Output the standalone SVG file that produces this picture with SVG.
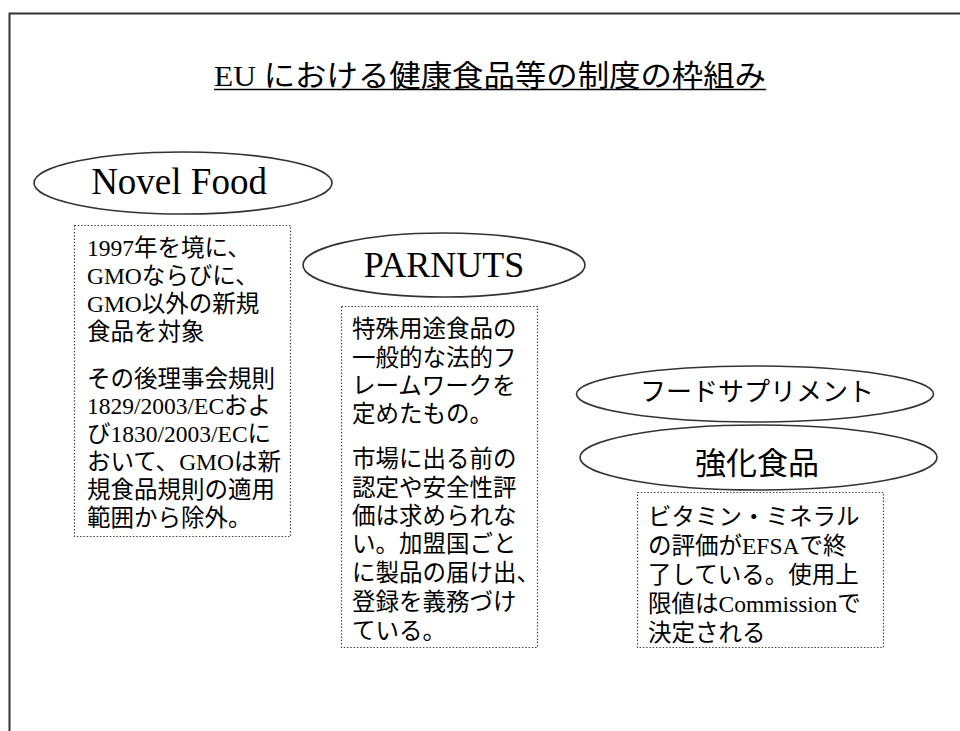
<svg xmlns="http://www.w3.org/2000/svg" width="960" height="731" viewBox="0 0 960 731">
<style>
.jp{font-family:"Noto Sans CJK JP","Noto Sans CJK SC",sans-serif;fill:#000}
.lat{font-family:"Liberation Serif","Noto Sans CJK JP",serif}
.body{font-size:23.5px}
.oval{fill:#fff;stroke:#333;stroke-width:1.6}
.box{fill:#fff;stroke:#444;stroke-width:1.2;stroke-dasharray:1.5 1.8}
</style>
<rect width="960" height="731" fill="#fff"/>
<path d="M9.5,731 V13.5 H960" fill="none" stroke="#333" stroke-width="2"/>

<g id="title">
  <text x="214" y="86" class="jp" font-size="30" textLength="552" lengthAdjust="spacingAndGlyphs"><tspan class="lat">EU </tspan>における健康食品等の制度の枠組み</text>
  <line x1="214" y1="89.5" x2="766" y2="89.5" stroke="#000" stroke-width="1.5"/>
</g>

<g id="connectors"></g>

<g id="novel-food">
  <ellipse class="oval" cx="183" cy="183" rx="149" ry="31"/>
  <text x="179" y="194" font-family="Liberation Serif, serif" font-size="37" fill="#000" text-anchor="middle">Novel Food</text>
</g>

<g id="novel-food-note">
  <rect class="box" x="74.5" y="225.5" width="216" height="311"/>
  <text class="jp body" x="87">
    <tspan x="87" y="256"><tspan class="lat">1997</tspan>年を境に、</tspan>
    <tspan x="87" y="284"><tspan class="lat">GMO</tspan>ならびに、</tspan>
    <tspan x="87" y="312"><tspan class="lat">GMO</tspan>以外の新規</tspan>
    <tspan x="87" y="340">食品を対象</tspan>
    <tspan x="87" y="387">その後理事会規則</tspan>
    <tspan x="87" y="414"><tspan class="lat">1829/2003/EC</tspan>およ</tspan>
    <tspan x="87" y="442">び<tspan class="lat">1830/2003/EC</tspan>に</tspan>
    <tspan x="87" y="470">おいて、<tspan class="lat">GMO</tspan>は新</tspan>
    <tspan x="87" y="498">規食品規則の適用</tspan>
    <tspan x="87" y="526">範囲から除外。</tspan>
  </text>
</g>

<g id="parnuts">
  <ellipse class="oval" cx="444" cy="265" rx="141" ry="32"/>
  <text x="444" y="277" font-family="Liberation Serif, serif" font-size="36" fill="#000" text-anchor="middle">PARNUTS</text>
</g>

<g id="parnuts-note">
  <rect class="box" x="341.5" y="306.5" width="196" height="341"/>
  <text class="jp body">
    <tspan x="352" y="337">特殊用途食品の</tspan>
    <tspan x="352" y="366">一般的な法的フ</tspan>
    <tspan x="352" y="394">レームワークを</tspan>
    <tspan x="352" y="422">定めたもの。</tspan>
    <tspan x="352" y="467">市場に出る前の</tspan>
    <tspan x="352" y="496">認定や安全性評</tspan>
    <tspan x="352" y="524">価は求められな</tspan>
    <tspan x="352" y="552">い。加盟国ごと</tspan>
    <tspan x="352" y="581">に製品の届け出、</tspan>
    <tspan x="352" y="610">登録を義務づけ</tspan>
    <tspan x="352" y="639">ている。</tspan>
  </text>
</g>

<g id="food-supplement">
  <ellipse class="oval" cx="755" cy="394" rx="178.5" ry="28"/>
  <text class="jp" x="757" y="401" font-size="26" text-anchor="middle">フードサプリメント</text>
</g>

<g id="fortified-food">
  <ellipse class="oval" cx="758.5" cy="457.5" rx="178.5" ry="32.5"/>
  <text class="jp" x="757" y="474" font-size="31" text-anchor="middle">強化食品</text>
</g>

<g id="fortified-food-note">
  <rect class="box" x="637.5" y="492.5" width="246" height="155"/>
  <text class="jp body">
    <tspan x="648" y="525">ビタミン・ミネラル</tspan>
    <tspan x="648" y="554">の評価が<tspan class="lat">EFSA</tspan>で終</tspan>
    <tspan x="648" y="583">了している。使用上</tspan>
    <tspan x="648" y="612">限値は<tspan class="lat">Commission</tspan>で</tspan>
    <tspan x="648" y="641">決定される</tspan>
  </text>
</g>
</svg>
